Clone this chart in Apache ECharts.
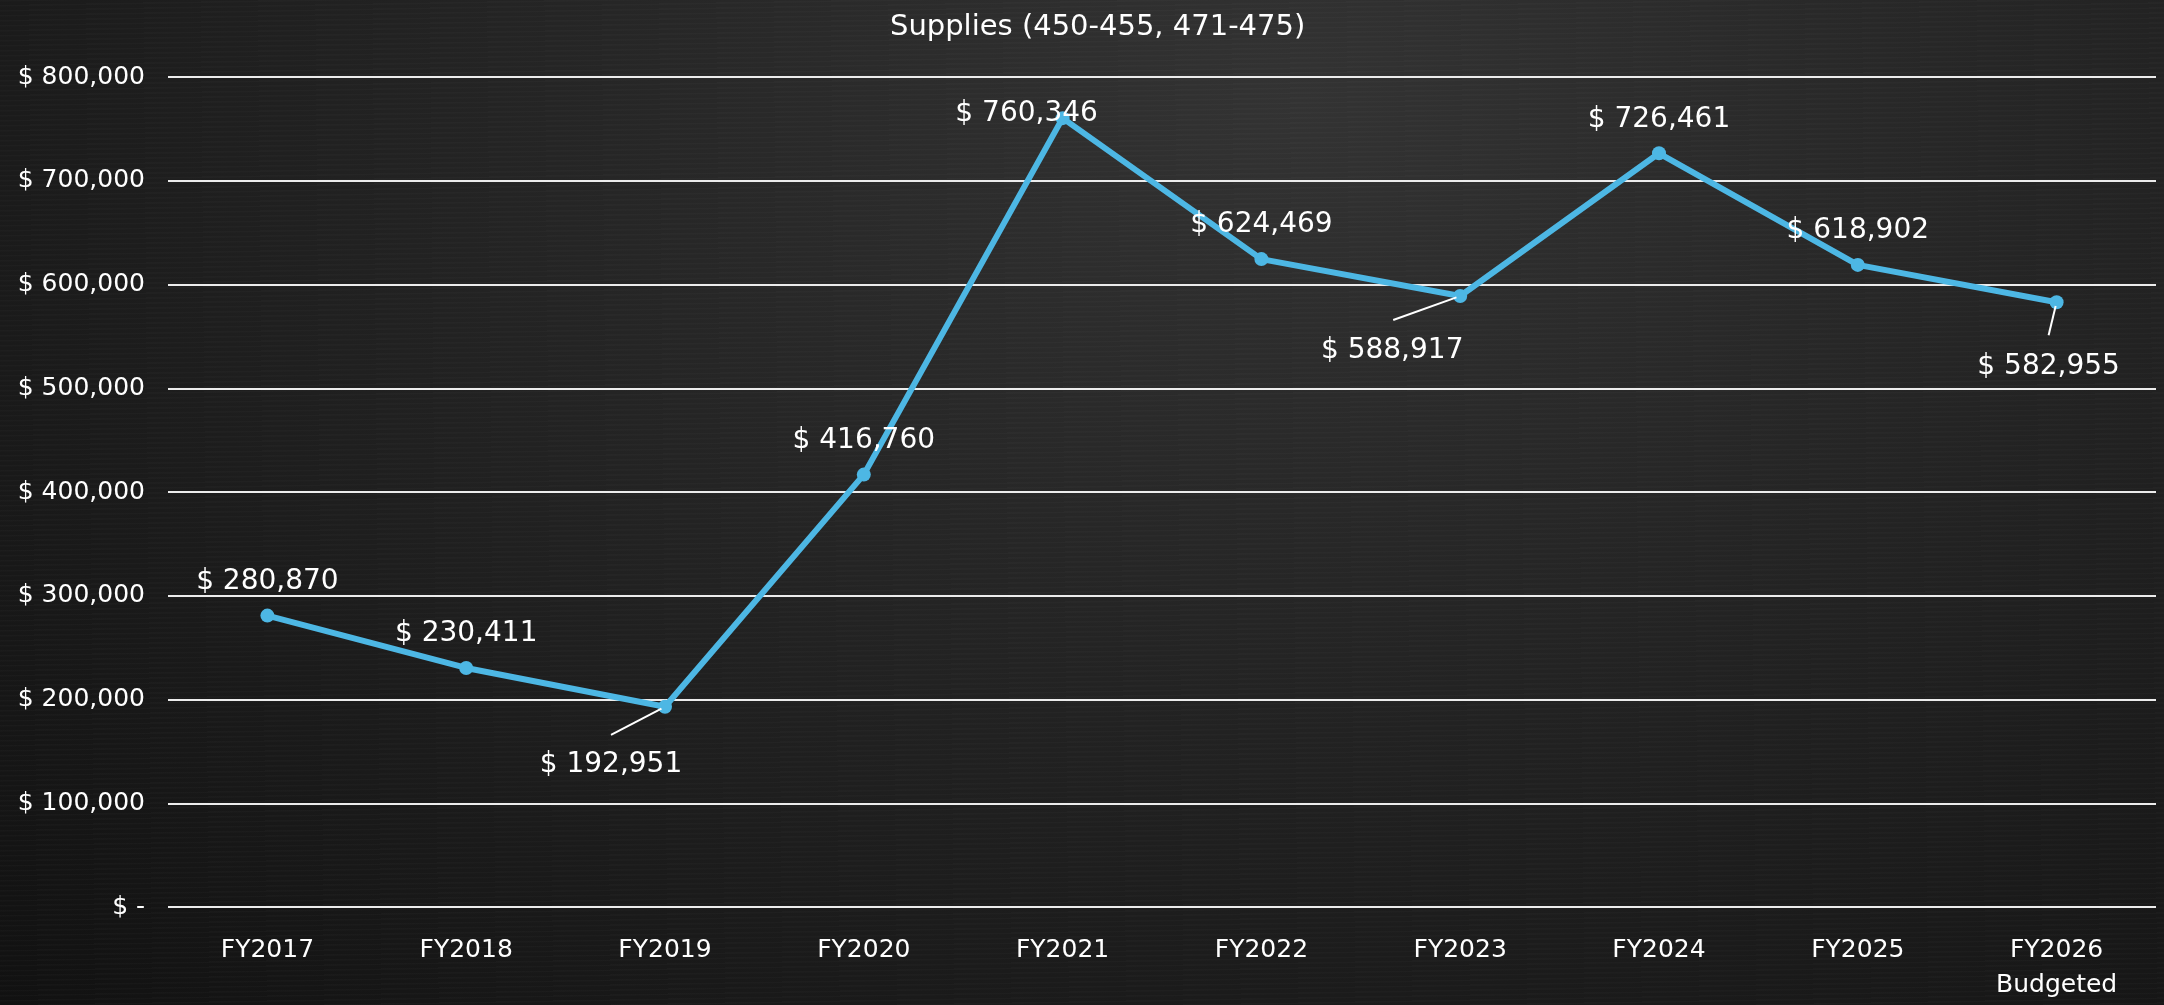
<!DOCTYPE html>
<html>
<head>
<meta charset="utf-8">
<script src="https://cdn.jsdelivr.net/npm/echarts@6/dist/echarts.min.js"></script>
<style>
  html, body { margin: 0; padding: 0; }
  body {
    width: 2164px; height: 1005px; overflow: hidden;
    background:
      repeating-linear-gradient(179deg, rgba(255,255,255,0.02) 0px, rgba(255,255,255,0.02) 1px, rgba(0,0,0,0) 2px, rgba(0,0,0,0) 5px),
      radial-gradient(ellipse at 60% 10%, #333333 0%, #272727 35%, #1b1b1b 70%, #111111 100%);
  }
  #chart { width: 2164px; height: 1005px; }
</style>
</head>
<body>
<div id="chart"></div>
<script>
// chart data
const categories = ['FY2017', 'FY2018', 'FY2019', 'FY2020', 'FY2021', 'FY2022', 'FY2023', 'FY2024', 'FY2025', 'FY2026\nBudgeted']
const spending = [280870, 230411, 192951, 416760, 760346, 624469, 588917, 726461, 618902, 582955]
const yMin = 0
const yMax = 800000
const yStep = 100000

// labels that sit away from their point (index -> [dx, dy])
const labelShift = { 2: [-54, 58], 4: [-36, -4], 6: [-68, 55], 9: [-8, 65] }
// leader line end, relative to the point (index -> [dx, dy])
const leaderEnd = { 2: [-54, 28], 6: [-67, 24], 9: [-8, 33] }

const money = v => v === 0 ? '$ -' : '$ ' + v.toLocaleString('en-US')

const chart = echarts.init(document.getElementById('chart'), null, { renderer: 'canvas' })

chart.setOption({
    backgroundColor: 'transparent',
    animation: false,
    textStyle: { fontFamily: 'DejaVu Sans' },
    title: {
        text: 'Supplies (450-455, 471-475)',
        left: 885,
        top: 8,
        textStyle: {
            color: '#ffffff',
            fontFamily: 'DejaVu Sans',
            fontWeight: 'normal',
            fontSize: 29
        }
    },
    grid: {
        left: 168,
        right: 8,
        top: 77,
        bottom: 98
    },
    xAxis: {
        type: 'category',
        data: categories,
        boundaryGap: true,
        axisLine: { show: false },
        axisTick: { show: false },
        axisLabel: {
            color: '#ffffff',
            fontSize: 25,
            lineHeight: 35,
            margin: 26,
            interval: 0
        }
    },
    yAxis: {
        type: 'value',
        min: yMin,
        max: yMax,
        interval: yStep,
        axisLine: { show: false },
        axisTick: { show: false },
        splitLine: {
            lineStyle: { color: '#ececec', width: 2 }
        },
        axisLabel: {
            color: '#ffffff',
            fontSize: 25,
            margin: 23,
            formatter: money
        }
    },
    series: [
        {
            type: 'line',
            data: spending.map((v, i) => labelShift[i]
                ? { value: v, label: { position: 'inside' } }
                : { value: v }),
            symbol: 'circle',
            symbolSize: 14,
            lineStyle: { color: '#4db7e4', width: 6 },
            itemStyle: { color: '#4db7e4' },
            label: {
                show: true,
                position: 'top',
                distance: 13,
                color: '#ffffff',
                fontSize: 28,
                formatter: p => money(p.value)
            },
            labelLayout: function (params) {
                const s = labelShift[params.dataIndex]
                return s ? { dx: s[0], dy: s[1] } : {}
            }
        }
    ]
})

// leader lines from the point to the moved labels
function drawLeaders() {
    const lines = Object.keys(leaderEnd).map(k => {
        const i = +k
        const p = chart.convertToPixel({ seriesIndex: 0 }, [i, spending[i]])
        const e = leaderEnd[i]
        const len = Math.hypot(e[0], e[1])
        return {
            type: 'line',
            silent: true,
            z: 100,
            shape: {
                x1: p[0] + e[0] / len * 4, y1: p[1] + e[1] / len * 4,
                x2: p[0] + e[0], y2: p[1] + e[1]
            },
            style: { stroke: '#ffffff', lineWidth: 2 }
        }
    })
    chart.setOption({ graphic: lines })
}
drawLeaders()
</script>
</body>
</html>
